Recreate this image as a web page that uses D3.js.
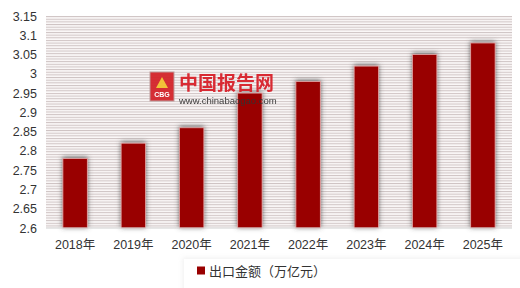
<!DOCTYPE html>
<html>
<head>
<meta charset="utf-8">
<script src="https://cdn.jsdelivr.net/npm/d3@7"></script>
<style>
  body { margin: 0; background: #fff; }
  text { font-family: "Liberation Sans", "Noto Sans CJK SC", sans-serif; }
</style>
</head>
<body>
<script>
var years = ['2018年', '2019年', '2020年', '2021年', '2022年', '2023年', '2024年', '2025年'];
var exportValue = [2.78, 2.82, 2.86, 2.95, 2.98, 3.02, 3.05, 3.08];
var yTicks = [2.6, 2.65, 2.7, 2.75, 2.8, 2.85, 2.9, 2.95, 3, 3.05, 3.1, 3.15];
var seriesName = '出口金额（万亿元）';

var svgWidth = 520, svgHeight = 288;
var margin = {top: 16, left: 46, bottom: 60, right: 8};
var width = svgWidth - margin.left - margin.right,
    height = svgHeight - margin.top - margin.bottom;

var svg = d3.select('body').append('svg')
  .attr('width', svgWidth)
  .attr('height', svgHeight)

var defs = svg.append('defs')

var pat = defs.append('pattern')
  .attr('id', 'stripes')
  .attr('patternUnits', 'userSpaceOnUse')
  .attr('width', 8)
  .attr('height', 2.65)
  .attr('y', margin.top)
pat.append('rect').attr('width', 8).attr('height', 2.65).attr('fill', '#faf7f7')
pat.append('rect').attr('width', 8).attr('height', 1).attr('fill', '#cfc4c4')

var shadow = defs.append('filter')
  .attr('id', 'shadow')
  .attr('x', '-40%').attr('y', '-10%')
  .attr('width', '180%').attr('height', '120%')
shadow.append('feDropShadow')
  .attr('dx', 0).attr('dy', -1)
  .attr('stdDeviation', 2.4)
  .attr('flood-color', '#444')
  .attr('flood-opacity', 0.8)

var legendShadow = defs.append('filter')
  .attr('id', 'lshadow')
  .attr('x', '-20%').attr('y', '-50%')
  .attr('width', '140%').attr('height', '200%')
legendShadow.append('feDropShadow')
  .attr('dx', -1).attr('dy', -1)
  .attr('stdDeviation', 2.5)
  .attr('flood-color', '#aaa')
  .attr('flood-opacity', 0.2)

var g = svg.append('g')
  .attr('transform', `translate(${margin.left},${margin.top})`)

var xScale = d3.scaleBand().domain(years).range([0, width]).paddingInner(0.58).paddingOuter(0.29)
var yScale = d3.scaleLinear().domain([2.6, 3.15]).range([height, 0])

g.append('rect')
  .attr('x', 0).attr('y', 0)
  .attr('width', width).attr('height', height)
  .attr('fill', 'url(#stripes)')

g.selectAll('.bar').data(exportValue).enter().append('rect')
  .attr('class', 'bar')
  .attr('x', (d, i) => xScale(years[i]))
  .attr('y', d => yScale(d))
  .attr('width', xScale.bandwidth())
  .attr('height', d => height - yScale(d))
  .attr('fill', '#990000')
  .attr('stroke', '#e3a8a8')
  .attr('stroke-width', 0.8)
  .attr('filter', 'url(#shadow)')

// watermark (drawn over the bars, like the reference)
var wm = g.append('g').attr('transform', 'translate(104,56)').attr('opacity', 0.95)
wm.append('rect').attr('x', 0).attr('y', 0).attr('width', 24).attr('height', 29)
  .attr('fill', '#d4252b').attr('stroke', '#b99').attr('stroke-width', 1)
wm.append('path').attr('d', 'M6,16 L12,5 L18,16 Z').attr('fill', '#f2c230')
wm.append('text').attr('x', 12).attr('y', 25).attr('text-anchor', 'middle')
  .attr('font-size', 7).attr('font-weight', 'bold').attr('fill', '#fff').text('CBG')
wm.append('text').attr('x', 29).attr('y', 18)
  .style('font-family', '"Noto Sans CJK SC", sans-serif')
  .attr('font-size', 19).attr('font-weight', 'bold').attr('fill', '#d8212a')
  .text('中国报告网')
wm.append('text').attr('x', 29).attr('y', 32)
  .attr('font-size', 9.5).attr('fill', '#333')
  .text('www.chinabaogao.com')

g.append('line')
  .attr('x1', 0).attr('x2', width)
  .attr('y1', height).attr('y2', height)
  .attr('stroke', '#cfcfcf')

var yAxis = d3.axisLeft(yScale).tickValues(yTicks).tickSize(0).tickPadding(9)
  .tickFormat(d => d3.format('')(+d.toFixed(2)))
g.append('g').attr('class', 'axis-y').call(yAxis)
  .call(a => a.select('.domain').remove())
  .selectAll('text').attr('font-size', 12.5).attr('fill', '#333')
  .style('font-family', '"Liberation Sans", sans-serif')

var xAxis = d3.axisBottom(xScale).tickSize(0).tickPadding(12)
g.append('g').attr('class', 'axis-x').attr('transform', `translate(0,${height})`).call(xAxis)
  .call(a => a.select('.domain').remove())
  .selectAll('text').attr('font-size', 12.5).attr('fill', '#333')
  .style('font-family', '"Liberation Sans", "Noto Sans CJK SC", sans-serif')

// legend
svg.append('rect').attr('x', 184).attr('y', 259).attr('width', 340).attr('height', 40)
  .attr('fill', '#fff').attr('filter', 'url(#lshadow)')
var legend = svg.append('g').attr('transform', 'translate(197,271)')
legend.append('rect').attr('x', 0).attr('y', -4.5).attr('width', 8).attr('height', 8).attr('fill', '#990000')
legend.append('text').attr('x', 12).attr('y', 0).attr('dy', '0.35em')
  .style('font-family', '"Noto Sans CJK SC", sans-serif')
  .attr('font-size', 13).attr('fill', '#333')
  .text(seriesName)
</script>
</body>
</html>
